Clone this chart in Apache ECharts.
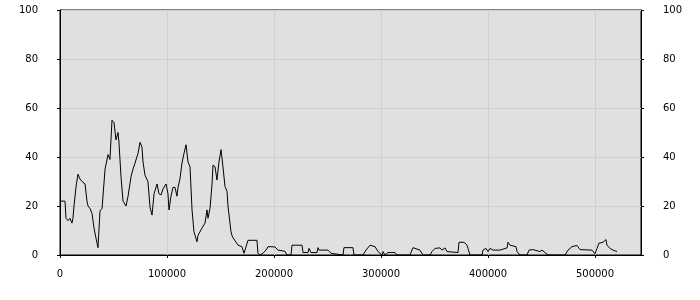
<!DOCTYPE html>
<html>
<head>
<meta charset="utf-8">
<script src="https://cdn.jsdelivr.net/npm/echarts@6/dist/echarts.min.js"></script>
<style>html,body{margin:0;padding:0;background:#fff}#c{width:700px;height:300px}</style>
</head>
<body>
<div id="c"></div>
<script>
var xValues = [0,4700,5600,7500,9300,11200,12100,13100,15000,16800,18700,20600,22400,23400,25200,26200,28000,29900,31800,33600,35500,37400,39300,42100,44900,46700,48600,50500,52300,54200,55100,57000,58900,61700,63600,66400,68200,70100,72900,74800,76600,77600,79400,82200,84100,86000,87900,90700,92500,94400,96300,99100,100900,101900,103700,105600,107500,109300,110300,112100,114000,115900,117800,119600,121500,123400,125200,128000,129000,132700,135500,137400,138300,140200,142100,143000,144900,146700,148600,150500,152300,154200,156100,157000,159800,160700,161700,163600,166400,170100,172000,173800,175700,184100,185000,186900,189700,192500,194400,200900,203700,210300,212100,215900,216800,226200,227100,231800,232700,234600,240200,241100,242100,250500,253300,254200,264500,265400,273800,274800,283200,286000,289700,294400,297200,300900,301900,303700,306500,313100,315000,327100,329900,336400,339300,345800,347700,350500,355100,357000,359800,361700,372000,372900,377600,380400,381300,383200,394400,395300,398100,400000,401900,404700,406500,411200,417800,418700,420600,422400,426200,427100,429900,436500,438300,442100,448600,450500,453300,456100,472000,474800,478500,479400,483200,486000,497200,500000,501900,503700,507500,510300,511200,514000,516800,520600];
var yValues = [22,22,15,14,15,13,15,20,28,33,31,30,30.6,29,22,20,19,17,11,7,3,18,19,35,41,39,55,54,47,50,46,32,22,20,24,32,35,37.5,41.5,46,44,38,32.6,30,19.6,16.3,25,29,25,24.5,27,29,25,18.4,24,27.6,27.6,24,27.6,31,37.5,41.5,45,38,36,18.4,9.5,5.4,8,11,13,18.4,15,19,29,36.7,36,30.6,38,43,36,28,26,20,9.5,8,7,5.8,4,3.4,0.7,0,6,6,0.7,0,0.7,2,3.4,3.3,2,1.5,0,0,4,4,1,1,2.7,1,1,3,2,2,0.7,0,0,3,3,0,0,2,4,3.4,1.4,0,1.4,0,1,1,0,0,3,2,0,0,1.4,2.7,2.9,2,2.9,1.4,1,5.2,5.2,4,2.7,0,0,2,2.7,1.4,2.7,2,2.7,2,2.9,5.2,4,3.4,3.4,1.4,0,0,2,2.2,1.4,2,1,0,0,2,3.4,3.9,3.9,2.2,2,0.5,2.7,4.8,5.2,6.3,4,2.7,2,1.4];
var yTicks = [0,20,40,60,80,100];
var xTicks = [0,100000,200000,300000,400000,500000];

var data = xValues.map(function(x,i){return [x, yValues[i]];});
var font = {fontFamily:'DejaVu Sans', fontSize:10, color:'#000'};
var chart = echarts.init(document.getElementById('c'), null, {renderer:'canvas'});
var yAxisBase = function(pos){
  return {
    type:'value', position:pos, min:0, max:100, interval:20,
    axisLine:{show:true, lineStyle:{color:'#000', width:1}},
    axisTick:{show:true, length:3, lineStyle:{color:'#000'}},
    axisLabel:Object.assign({margin:22, formatter:function(v){return yTicks.indexOf(v)>=0?String(v):'';}}, font),
    splitLine:{show:pos==='left', lineStyle:{color:'#cfcfcf', width:1}}
  };
};
chart.setOption({
  animation:false,
  backgroundColor:'#ffffff',
  grid:{left:60, right:59, top:10, bottom:45, show:true, backgroundColor:'#e0e0e0', borderColor:'#000', borderWidth:1},
  xAxis:{
    type:'value', min:0, max:543000, interval:100000,
    axisLine:{show:true, onZero:false, lineStyle:{color:'#000', width:1}},
    axisTick:{show:true, length:3, lineStyle:{color:'#000'}},
    axisLabel:Object.assign({margin:14, showMaxLabel:false, formatter:function(v){return xTicks.indexOf(v)>=0?String(v):'';}}, font),
    splitLine:{show:true, lineStyle:{color:'#cfcfcf', width:1}}
  },
  yAxis:[yAxisBase('left'), yAxisBase('right')],
  series:[{
    type:'line', data:data, showSymbol:false, symbol:'none',
    lineStyle:{color:'#000', width:1}, yAxisIndex:0
  }]
});
</script>
</body>
</html>
